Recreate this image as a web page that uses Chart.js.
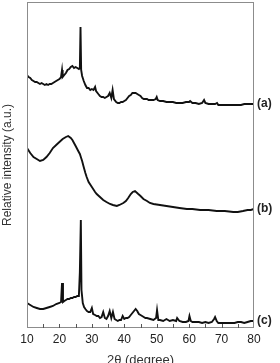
<!DOCTYPE html>
<html>
<head>
<meta charset="utf-8">
<script src="https://cdn.jsdelivr.net/npm/chart.js@4.4.1/dist/chart.umd.min.js"></script>
<style>
  html, body { margin: 0; padding: 0; background: #fff; }
  #wrap { width: 280px; height: 363px; }
</style>
</head>
<body>
<div id="wrap"><canvas id="xrd"></canvas></div>
<script>
// 2θ positions and relative intensities
const angA = [10,10.5,11,11.5,12,12.5,13,13.5,14,14.5,15,15.5,16,16.5,17,17.5,18,18.5,19,19.5,
  20,20.5,20.8,21,21.5,22,22.5,23,23.5,24,24.5,25,25.5,26,26.3,26.5,26.7,27,27.5,28,
  28.5,29,29.5,30,30.5,31,31.3,32,32.5,33,33.5,34,34.5,35,35.5,36,36.4,36.8,37.5,38,
  38.5,39,39.5,40,40.5,41,41.5,42,42.5,43,43.5,44,44.5,45,45.5,46,46.5,47,47.5,48,
  48.5,49,49.7,50,50.3,51,52,53,54,55,56,57,58,59,60,60.3,61,62,63,64,
  64.6,65,66,67,68,68.6,69,70,71,72,73,74,75,76,77,78,79,80];
const valA = [253,251,250,248,247,246,246,245,244,245,244,243,244,243,244,244,245,246,247,248,
  249,251,258,251,253,255,258,259,261,262,260,261,260,259,260,301,258,252,247,243,
  240,240,238,239,238,241,237,234,232,231,231,230,231,232,235,230,238,229,226,225,
  225,226,226,227,228,230,232,233,235,235,235,234,233,232,230,229,229,229,228,228,
  228,228,229,231,228,227,227,226,226,226,225,225,225,226,226,227,225,225,224,225,
  228,225,224,224,224,225,223,223,223,223,223,223,223,223,224,224,224,224];

const angB = [10,11,12,13,14,15,16,17,18,19,20,21,22,22.7,23.5,24,25,25.8,26.3,26.6,
  27,27.4,28,28.4,29,30,31,31.5,32.5,33.5,34.5,35.6,36.5,37.7,38.5,39.7,40.5,41.2,42,42.6,
  43.3,44.3,45,45.9,47,47.9,49,51,53,55,57,59.3,61,63.4,66,68.5,71,73.6,75,76.6,78,79,80];
const valB = [180,175,171,169,167,168,171,175,180,183,186,189,191,192,190,188,182,177,174,171,
  167,162,155,151,146,141,136,134,131,128,126,124,123,122,123,125,127,130,134,136,
  137,134,132,129,127,125,124,123,122,121,120,119,119,118,118,117,117,116,116,117,118,118,119];

const angC = [10,11,12,13,14,15,16,17,18,19,20,20.5,20.8,21.1,21.5,22,22.5,23,23.5,24,
  24.5,25,25.5,26,26.3,26.6,26.8,27.2,27.6,28,28.5,29,29.5,30,30.4,31,31.5,32,32.5,33,
  33.5,34,34.5,35,35.5,36,36.5,37,37.5,38,38.5,39,39.5,40,40.5,41,41.5,42,42.5,43,
  43.5,44,44.5,45,45.5,46,46.5,47,48,49,49.8,50.1,50.5,51,52,53,54,55,56,56.3,
  57,58,59,59.8,60.1,60.5,61,62,63,64,65,66,67,67.7,68,68.5,69,70,71,72,
  73,74,75,76,77,78,79,80];
const valC = [25,23,21,20,19,19,20,21,22,24,25,26,45,26,27,28,29,29,30,30,
  31,31,32,32,56,108,38,25,21,19,17,16,16,20,14,13,12,12,10,11,
  16,10,9,12,17,10,16,9,8,7,8,8,12,9,10,10,11,13,15,17,
  19,17,14,13,12,11,10,10,9,8,10,18,8,8,7,9,7,8,7,10,
  7,6,6,7,12,7,6,6,6,5,6,5,6,9,11,7,5,5,5,5,
  5,5,6,6,5,6,7,7];

const seriesNames = ['(a)', '(b)', '(c)'];
const xTicks = [10, 20, 30, 40, 50, 60, 70, 80];

function pts(ang, val) {
  return ang.map((a, i) => ({ x: a, y: val[i] }));
}

// box, inner ticks and the (a)/(b)/(c) tags
const framePlugin = {
  id: 'frame',
  afterDatasetsDraw(chart) {
    const { ctx, chartArea: ca, scales } = chart;
    ctx.save();
    ctx.strokeStyle = '#8c8c8c';
    ctx.lineWidth = 1;
    ctx.strokeRect(ca.left + 0.5, ca.top + 0.5, ca.right - ca.left - 1, ca.bottom - ca.top - 1);
    ctx.beginPath();
    for (let t = 15; t < 80; t += 5) {
      const px = Math.round(scales.x.getPixelForValue(t)) + 0.5;
      ctx.moveTo(px, ca.bottom);
      ctx.lineTo(px, ca.bottom - 4);
    }
    ctx.strokeStyle = '#555';
    ctx.stroke();

    ctx.fillStyle = '#222';
    ctx.font = 'bold 12px "Liberation Sans", Arial, sans-serif';
    ctx.textBaseline = 'middle';
    ctx.textAlign = 'left';
    chart.data.datasets.forEach((ds, i) => {
      const last = ds.data[ds.data.length - 1];
      ctx.fillText(seriesNames[i], ca.right + 3, scales.y.getPixelForValue(last.y));
    });
    ctx.restore();
  }
};

const lineStyle = { borderColor: '#111', borderWidth: 1.9, pointRadius: 0, tension: 0, fill: false };

new Chart(document.getElementById('xrd').getContext('2d'), {
  type: 'line',
  data: {
    datasets: [
      Object.assign({ label: seriesNames[0], data: pts(angA, valA) }, lineStyle),
      Object.assign({ label: seriesNames[1], data: pts(angB, valB) }, lineStyle),
      Object.assign({ label: seriesNames[2], data: pts(angC, valC) }, lineStyle)
    ]
  },
  options: {
    responsive: true,
    maintainAspectRatio: false,
    animation: false,
    layout: { padding: { left: 0, right: 26, top: 2, bottom: 0 } },
    plugins: { legend: { display: false }, tooltip: { enabled: false } },
    scales: {
      x: {
        type: 'linear',
        min: 10,
        max: 80,
        afterBuildTicks: s => { s.ticks = xTicks.map(v => ({ value: v })); },
        afterFit: s => { s.height = 35; },
        grid: { display: false, drawTicks: false },
        border: { display: false },
        ticks: {
          padding: 4,
          color: '#222',
          font: { family: '"Liberation Sans", Arial, sans-serif', size: 12 }
        },
        title: {
          display: true,
          text: '2θ (degree)',
          color: '#333',
          padding: { top: 0, bottom: 0 },
          font: { family: '"Liberation Sans", Arial, sans-serif', size: 13, lineHeight: 0.45 }
        }
      },
      y: {
        min: 0,
        max: 326,
        afterFit: s => { s.width = 27; },
        grid: { display: false, drawTicks: false },
        border: { display: false },
        ticks: { display: false },
        title: {
          display: true,
          text: 'Relative intensity (a.u.)',
          color: '#333',
          padding: { top: 0, bottom: 0 },
          font: { family: '"Liberation Sans", Arial, sans-serif', size: 12 }
        }
      }
    }
  },
  plugins: [framePlugin]
});
</script>
</body>
</html>
